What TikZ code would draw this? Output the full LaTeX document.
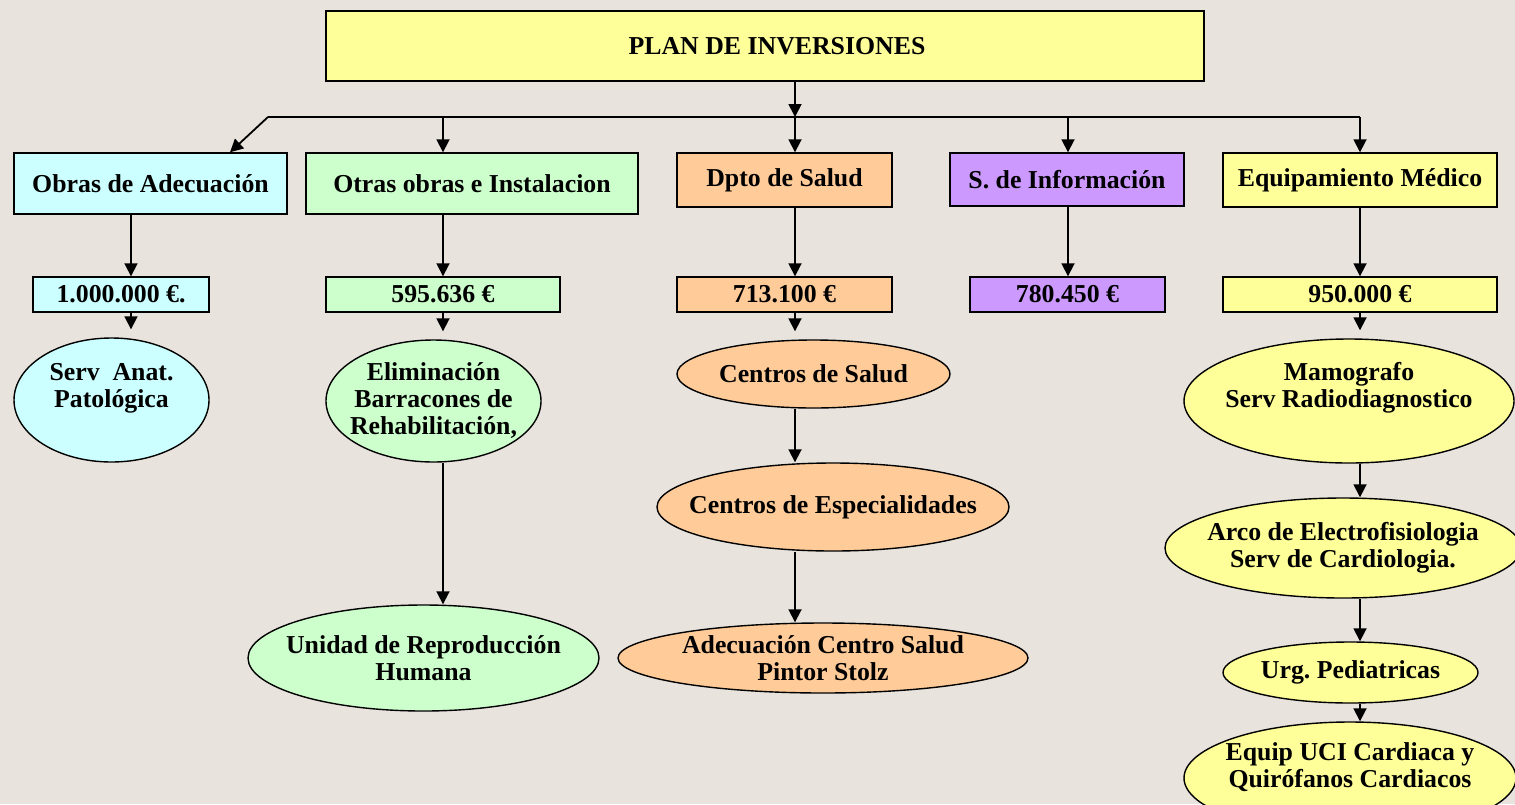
\documentclass[tikz,border=0pt]{standalone}
\usepackage{fontspec}
\setmainfont{Liberation Serif}
\usetikzlibrary{shapes.geometric,arrows.meta,positioning}
\definecolor{fondo}{RGB}{232,228,221}
\definecolor{cian}{RGB}{204,255,255}
\definecolor{verde}{RGB}{204,255,204}
\definecolor{naranja}{RGB}{255,204,153}
\definecolor{lila}{RGB}{204,153,255}
\definecolor{amarillo}{RGB}{255,255,153}
\newcommand{\letra}{\bfseries\frenchspacing\fontsize{25.8}{27}\selectfont}

\begin{document}
\begin{tikzpicture}[x=1pt,y=-1pt,
      >={Triangle[length=13pt,width=13pt]},
      caja/.style={draw,line width=1.4pt,rectangle,inner sep=0pt,font=\letra},
      elip/.style={draw,line width=1.4pt,ellipse,inner sep=-30pt,align=center,font=\letra},
      linea/.style={line width=1.8pt},
      flecha/.style={->,line width=1.8pt}]
      \fill[fondo] (0,0) rectangle (1515,804);
      \useasboundingbox (0,0) rectangle (1515,804);
      % cabecera
      \node[caja,fill=amarillo,minimum width=878pt,minimum height=70pt] (plan) at (765,46) {\hspace{24pt}PLAN DE INVERSIONES};
      % partidas
      \node[caja,fill=cian,minimum width=273pt,minimum height=61pt] (obras) at (150.5,183.5) {Obras de Adecuación};
      \node[caja,fill=verde,minimum width=332pt,minimum height=61pt] (otras) at (472,183.5) {Otras obras e Instalacion\hspace{18pt}};
      \node[caja,fill=naranja,minimum width=215pt,minimum height=54pt] (dpto) at (784.5,180) {Dpto de Salud};
      \node[caja,fill=lila,minimum width=234pt,minimum height=53pt] (sinfo) at (1067,179.5) {S. de Información};
      \node[caja,fill=amarillo,minimum width=274pt,minimum height=54pt] (equipo) at (1360,180) {Equipamiento Médico};
      % importes
      \node[caja,fill=cian,minimum width=176pt,minimum height=35pt] (imp1) at (121,294.5) {1.000.000 €.};
      \node[caja,fill=verde,minimum width=234pt,minimum height=35pt] (imp2) at (443,294.5) {595.636 €};
      \node[caja,fill=naranja,minimum width=215pt,minimum height=35pt] (imp3) at (784.5,294.5) {713.100 €};
      \node[caja,fill=lila,minimum width=195pt,minimum height=35pt] (imp4) at (1067.5,294.5) {780.450 €\hspace{30pt}};
      \node[caja,fill=amarillo,minimum width=274pt,minimum height=35pt] (imp5) at (1360,294.5) {950.000 €};
      % actuaciones
      \node[elip,fill=cian,minimum width=195pt,minimum height=124pt,text depth=29pt] (anat) at (111.5,400) {Serv~ Anat.\\Patológica};
      \node[elip,fill=verde,minimum width=215pt,minimum height=122pt] (barra) at (433.5,401) {Eliminación\\Barracones de\\Rehabilitación,};
      \node[elip,fill=verde,minimum width=351pt,minimum height=106pt] (repro) at (423.5,658) {Unidad de Reproducción\\Humana};
      \node[elip,fill=naranja,minimum width=273pt,minimum height=68pt] (csalud) at (813.5,374) {Centros de Salud};
      \node[elip,fill=naranja,minimum width=352pt,minimum height=88pt] (cesp) at (833,507) {Centros de Especialidades};
      \node[elip,fill=naranja,minimum width=410pt,minimum height=70pt] (stolz) at (823,658) {Adecuación Centro Salud\\Pintor Stolz};
      \node[elip,fill=amarillo,minimum width=330pt,minimum height=124pt,text depth=33pt] (mamo) at (1349,401) {Mamografo\\Serv Radiodiagnostico};
      \node[elip,fill=amarillo,minimum width=356pt,minimum height=100pt] (arco) at (1343,548) {Arco de Electrofisiologia\\Serv de Cardiologia.};
      \node[elip,fill=amarillo,minimum width=255pt,minimum height=61pt] (urg) at (1350.5,672.5) {Urg. Pediatricas};
      \node[elip,fill=amarillo,minimum width=332pt,minimum height=112pt,text depth=26pt] (uci) at (1350,778) {Equip UCI Cardiaca y\\Quirófanos Cardiacos};
      % reparto
      \coordinate (izq) at (268,117);
      \coordinate (der) at (1360,117);
      \coordinate (nudo) at (795,117);
      \coordinate (k1) at (131,0);
      \coordinate (k2) at (443,0);
      \coordinate (k3) at (795,0);
      \coordinate (k4) at (1068,0);
      \coordinate (k5) at (1360,0);
      \draw[linea] (izq) -- (der);
      \draw[flecha] (plan.south -| nudo) -- (nudo);
      \draw[flecha] (izq) -- ([xshift=79.5pt]obras.north);
      \draw[flecha] (k2 |- izq) -- (k2 |- otras.north);
      \draw[flecha] (nudo) -- (k3 |- dpto.north);
      \draw[flecha] (k4 |- izq) -- (k4 |- sinfo.north);
      \draw[flecha] (der) -- (k5 |- equipo.north);
      % columnas
      \draw[flecha] (k1 |- obras.south) -- (k1 |- imp1.north);
      \draw[flecha,shorten >=8pt] (k1 |- imp1.south) -- (k1 |- anat.north);
      \draw[flecha] (k2 |- otras.south) -- (k2 |- imp2.north);
      \draw[flecha,shorten >=8pt] (k2 |- imp2.south) -- (k2 |- barra.north);
      \draw[flecha] (k2 |- barra.south) -- (k2 |- repro.north);
      \draw[flecha] (k3 |- dpto.south) -- (k3 |- imp3.north);
      \draw[flecha,shorten >=8pt] (k3 |- imp3.south) -- (k3 |- csalud.north);
      \draw[flecha] (k3 |- csalud.south) -- (k3 |- cesp.north);
      \draw[flecha] (k3 |- cesp.south) -- (k3 |- stolz.north);
      \draw[flecha] (k4 |- sinfo.south) -- (k4 |- imp4.north);
      \draw[flecha] (k5 |- equipo.south) -- (k5 |- imp5.north);
      \draw[flecha,shorten >=8pt] (k5 |- imp5.south) -- (k5 |- mamo.north);
      \draw[flecha] (k5 |- mamo.south) -- (k5 |- arco.north);
      \draw[flecha] (k5 |- arco.south) -- (k5 |- urg.north);
      \draw[flecha] (k5 |- urg.south) -- (k5 |- uci.north);
\end{tikzpicture}
\end{document}
